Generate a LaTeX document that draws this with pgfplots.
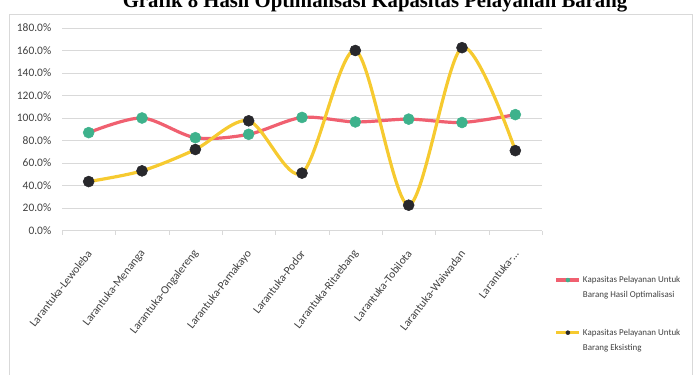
\documentclass[border=0pt]{standalone}
\usepackage{fontspec}
\setmainfont{Carlito}
\newfontfamily\titlefont{Liberation Serif}
\usepackage{pgfplots}
\pgfplotsset{compat=1.18}

\definecolor{optline}{RGB}{240,96,112}
\definecolor{optmark}{RGB}{62,178,140}
\definecolor{eksline}{RGB}{246,202,48}
\definecolor{eksmark}{RGB}{40,40,44}
\definecolor{gridc}{RGB}{217,217,217}
\definecolor{labc}{RGB}{64,64,64}

\begin{document}
\begin{tikzpicture}[x=1bp,y=1bp]
\useasboundingbox (0,0) rectangle (694,374);
% chart frame
\draw[gridc, line width=0.8bp] (9,360) rectangle (692,-20);
% title
\node[anchor=base, inner sep=0pt] at (375,367) {\titlefont\bfseries\fontsize{20.8}{22}\selectfont Grafik 8 Hasil Optimalisasi Kapasitas Pelayanan Barang};

\begin{axis}[
  at={(62bp,143.5bp)}, anchor=south west,
  scale only axis, width=480bp, height=202.5bp,
  xmin=-0.5, xmax=8.5, ymin=0, ymax=180,
  xtick={0,1,2,3,4,5,6,7,8},
  xticklabels={Larantuka-Lewoleba,Larantuka-Menanga,Larantuka-Ongalereng,Larantuka-Pamakayo,Larantuka-Podor,Larantuka-Ritaebang,Larantuka-Tobilota,Larantuka-Waiwadan,{Larantuka-\textellipsis}},
  xticklabel style={yshift=-14bp, xshift=3bp, rotate=52, anchor=east, font=\fontsize{11.5}{12}\selectfont, text=labc},
  major x tick style={draw=none},
  minor xtick={-0.5,0.5,1.5,2.5,3.5,4.5,5.5,6.5,7.5,8.5},
  minor tick length=4bp,
  minor x tick style={gridc},
  ytick={0,20,40,60,80,100,120,140,160,180},
  yticklabel={\pgfmathprintnumber[fixed,fixed zerofill,precision=1]{\tick}\%},
  yticklabel style={font=\fontsize{11.5}{12}\selectfont, text=labc, xshift=-3bp},
  /pgf/number format/assume math mode=true,
  major y tick style={draw=none},
  ymajorgrids, grid style={gridc, line width=0.8bp},
  axis x line*=bottom, axis y line*=left,
  x axis line style={gridc, line width=0.8bp, -},
  y axis line style={draw=none},
  tick align=outside,
  legend style={at={(1.02,-0.205)}, anchor=north west, draw=none, fill=none,
    font=\fontsize{9}{15}\selectfont, text=labc, row sep=26bp,
    cells={align=left}},
  legend cell align=left,
  legend image code/.code={%
    \draw[mark repeat=2,mark phase=2,mark size=2bp,#1]
    plot coordinates {(0bp,7.5bp)(11.5bp,7.5bp)(23bp,7.5bp)};},
  clip=false,
]
\addplot[optline, line width=3.2bp, smooth, mark=*, mark size=5.5bp,
  mark options={fill=optmark, draw=optmark, line width=0.5bp}]
  coordinates {(0,87) (1,100) (2,82.5) (3,85.5) (4,100.5) (5,96.5) (6,99) (7,96) (8,103)};
\addlegendentry{Kapasitas Pelayanan Untuk\\Barang Hasil Optimalisasi}
\addplot[eksline, line width=3.2bp, smooth, mark=*, mark size=5.5bp,
  mark options={fill=eksmark, draw=eksmark, line width=0.5bp}]
  coordinates {(0,43.5) (1,53) (2,72) (3,97.5) (4,51) (5,160) (6,22.5) (7,162.5) (8,71)};
\addlegendentry{Kapasitas Pelayanan Untuk\\Barang Eksisting}
\end{axis}
\end{tikzpicture}
\end{document}
